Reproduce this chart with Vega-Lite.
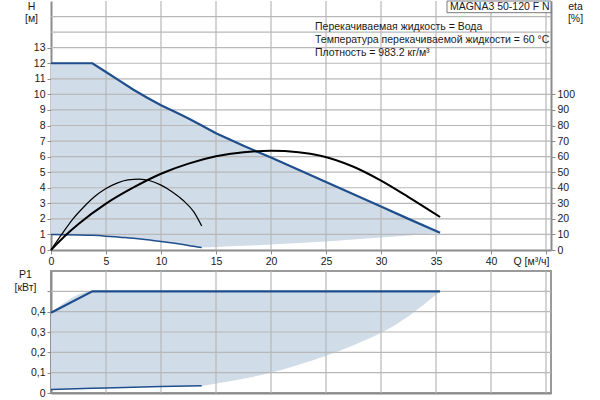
{
  "$schema": "https://vega.github.io/schema/vega-lite/v6.json",
  "padding": {"left": 13, "top": 0, "right": 0, "bottom": 0},
  "background": "white",
  "spacing": 1,
  "config": {
    "font": "Liberation Sans",
    "view": {"stroke": null},
    "axis": {
      "labelFont": "Liberation Sans", "labelFontSize": 10.5, "labelColor": "#1a1a1a",
      "titleFont": "Liberation Sans", "titleFontSize": 10.5, "titleFontWeight": "normal", "titleColor": "#1a1a1a",
      "grid": false,
      "domainColor": "#8c8c8c", "domainWidth": 2,
      "tickColor": "#8c8c8c", "tickSize": 4, "labelPadding": 2,
      "zindex": 1
    }
  },
  "datasets": {
    "hband": [
      {"Q": 0, "hi": 12, "lo": 1.0},
      {"Q": 2.5, "hi": 12, "lo": 0.97},
      {"Q": 3.76, "hi": 12, "lo": 0.94},
      {"Q": 5, "hi": 11.44, "lo": 0.89},
      {"Q": 6.25, "hi": 10.87, "lo": 0.82},
      {"Q": 7.5, "hi": 10.3, "lo": 0.75},
      {"Q": 8.75, "hi": 9.78, "lo": 0.66},
      {"Q": 10, "hi": 9.3, "lo": 0.55},
      {"Q": 11.25, "hi": 8.88, "lo": 0.43},
      {"Q": 12, "hi": 8.62, "lo": 0.35},
      {"Q": 12.5, "hi": 8.45, "lo": 0.29},
      {"Q": 13.7, "hi": 8.0, "lo": 0.16},
      {"Q": 15, "hi": 7.5, "lo": 0.2},
      {"Q": 16.25, "hi": 7.1, "lo": 0.234},
      {"Q": 17.5, "hi": 6.7, "lo": 0.272},
      {"Q": 18.75, "hi": 6.32, "lo": 0.312},
      {"Q": 20, "hi": 5.94, "lo": 0.355},
      {"Q": 22.5, "hi": 5.15, "lo": 0.449},
      {"Q": 25, "hi": 4.37, "lo": 0.554},
      {"Q": 27.5, "hi": 3.58, "lo": 0.671},
      {"Q": 30, "hi": 2.8, "lo": 0.798},
      {"Q": 32.5, "hi": 2.0, "lo": 0.937},
      {"Q": 35.37, "hi": 1.11, "lo": 1.11}
    ],
    "etaBig": [
      {"Q": 0, "eta": 0},
      {"Q": 1.43, "eta": 10.1},
      {"Q": 2.5, "eta": 16.7},
      {"Q": 5, "eta": 29.8},
      {"Q": 7.5, "eta": 40.2},
      {"Q": 10, "eta": 49},
      {"Q": 12.5, "eta": 55.5},
      {"Q": 15, "eta": 60.2},
      {"Q": 17.5, "eta": 62.8},
      {"Q": 20, "eta": 63.7},
      {"Q": 22.5, "eta": 62.8},
      {"Q": 24.5, "eta": 60.6},
      {"Q": 27.5, "eta": 53.5},
      {"Q": 30, "eta": 44.6},
      {"Q": 32.5, "eta": 34},
      {"Q": 35.37, "eta": 21.2}
    ],
    "etaSmall": [
      {"Q": 0, "eta": 0},
      {"Q": 1, "eta": 10.3},
      {"Q": 2, "eta": 20},
      {"Q": 3, "eta": 27.8},
      {"Q": 4, "eta": 34.5},
      {"Q": 5, "eta": 39.5},
      {"Q": 6, "eta": 43},
      {"Q": 7, "eta": 45},
      {"Q": 8, "eta": 45.5},
      {"Q": 9, "eta": 44.5},
      {"Q": 10, "eta": 41.7},
      {"Q": 11, "eta": 37.5},
      {"Q": 12, "eta": 32},
      {"Q": 13, "eta": 24.3},
      {"Q": 13.7, "eta": 15.4}
    ],
    "pband": [
      {"Q": 0, "hi": 0.395, "lo": 0.017},
      {"Q": 3.76, "hi": 0.5, "lo": 0.023},
      {"Q": 5, "hi": 0.5, "lo": 0.025},
      {"Q": 10, "hi": 0.5, "lo": 0.032},
      {"Q": 13.7, "hi": 0.5, "lo": 0.036},
      {"Q": 15, "hi": 0.5, "lo": 0.047},
      {"Q": 17.5, "hi": 0.5, "lo": 0.07},
      {"Q": 20, "hi": 0.5, "lo": 0.1},
      {"Q": 22.5, "hi": 0.5, "lo": 0.139},
      {"Q": 25, "hi": 0.5, "lo": 0.183},
      {"Q": 27.5, "hi": 0.5, "lo": 0.235},
      {"Q": 30, "hi": 0.5, "lo": 0.296},
      {"Q": 32.5, "hi": 0.5, "lo": 0.378},
      {"Q": 35.37, "hi": 0.5, "lo": 0.5}
    ],
    "gridQ": [
      {"Q": 5, "y0": 0, "y1": 16, "p0": 0, "p1": 0.6}, {"Q": 10, "y0": 0, "y1": 16, "p0": 0, "p1": 0.6},
      {"Q": 15, "y0": 0, "y1": 16, "p0": 0, "p1": 0.6}, {"Q": 20, "y0": 0, "y1": 16, "p0": 0, "p1": 0.6},
      {"Q": 25, "y0": 0, "y1": 16, "p0": 0, "p1": 0.6}, {"Q": 30, "y0": 0, "y1": 16, "p0": 0, "p1": 0.6},
      {"Q": 35, "y0": 0, "y1": 16, "p0": 0, "p1": 0.6}, {"Q": 40, "y0": 0, "y1": 16, "p0": 0, "p1": 0.6},
      {"Q": 45, "y0": 0, "y1": 16, "p0": 0, "p1": 0.6}
    ],
    "gridH": [
      {"Q": 0, "Q2": 45.4545, "H": 1}, {"Q": 0, "Q2": 45.4545, "H": 2}, {"Q": 0, "Q2": 45.4545, "H": 3},
      {"Q": 0, "Q2": 45.4545, "H": 4}, {"Q": 0, "Q2": 45.4545, "H": 5}, {"Q": 0, "Q2": 45.4545, "H": 6},
      {"Q": 0, "Q2": 45.4545, "H": 7}, {"Q": 0, "Q2": 45.4545, "H": 8}, {"Q": 0, "Q2": 45.4545, "H": 9},
      {"Q": 0, "Q2": 45.4545, "H": 10}, {"Q": 0, "Q2": 45.4545, "H": 11}, {"Q": 0, "Q2": 45.4545, "H": 12},
      {"Q": 0, "Q2": 45.4545, "H": 13}, {"Q": 0, "Q2": 45.4545, "H": 14}, {"Q": 0, "Q2": 45.4545, "H": 15}
    ],
    "gridP": [
      {"Q": 0, "Q2": 45.4545, "P": 0.1}, {"Q": 0, "Q2": 45.4545, "P": 0.2}, {"Q": 0, "Q2": 45.4545, "P": 0.3},
      {"Q": 0, "Q2": 45.4545, "P": 0.4}, {"Q": 0, "Q2": 45.4545, "P": 0.5}
    ],
    "notes": [
      {"Q": 24.0, "H": 14.35, "t": "Перекачиваемая жидкость = Вода"},
      {"Q": 24.0, "H": 13.49, "t": "Температура перекачиваемой жидкости = 60 °C"},
      {"Q": 24.0, "H": 12.68, "t": "Плотность = 983.2 кг/м³"}
    ],
    "box": [
      {"Q": 36.0, "Q2": 45.4545, "H": 16, "H2": 15.25, "Qc": 40.8, "Hc": 15.62, "t": "MAGNA3 50-120 F N"}
    ]
  },
  "vconcat": [
    {
      "width": 500,
      "height": 249,
      "resolve": {"scale": {"y": "independent"}},
      "encoding": {
        "x": {
          "field": "Q", "type": "quantitative",
          "scale": {"domain": [0, 45.4545], "nice": false, "zero": false},
          "axis": {
            "values": [0, 5, 10, 15, 20, 25, 30, 35, 40, 45],
            "grid": false, "title": null,
            "labelFlush": false, "labelOverlap": false, "labelBound": false,
            "labelExpr": "datum.value == 45 ? 'Q [м³/ч]' : datum.label",
            "labelAlign": {"condition": {"test": "datum.value == 45", "value": "right"}, "value": "center"},
            "labelOffset": {"condition": {"test": "datum.value == 45", "value": 3}, "value": 0}
          }
        }
      },
      "layer": [
        {
          "layer": [
            {
              "data": {"name": "hband"},
              "mark": {"type": "area", "color": "#d0dce8", "opacity": 1},
              "encoding": {
                "y": {
                  "field": "hi", "type": "quantitative",
                  "scale": {"domain": [0, 16], "nice": false},
                  "axis": {"values": [0, 1, 2, 3, 4, 5, 6, 7, 8, 9, 10, 11, 12, 13, 14, 15], "grid": false, "title": ["H", "[м]"], "titleAngle": 0, "titleAlign": "center", "titleBaseline": "top", "titleX": -20, "titleY": 0, "titleLineHeight": 12, "labelExpr": "datum.value <= 13 ? datum.label : ''", "tickOpacity": {"condition": {"test": "datum.value > 13", "value": 0}, "value": 1}}
                },
                "y2": {"field": "lo"}
              }
            },
            {
              "data": {"name": "gridQ"},
              "mark": {"type": "rule", "stroke": "#b8b8b8", "strokeWidth": 1.2},
              "encoding": {
                "y": {
                  "field": "y0", "type": "quantitative",
                  "scale": {"domain": [0, 16], "nice": false},
                  "axis": {"values": [0, 1, 2, 3, 4, 5, 6, 7, 8, 9, 10, 11, 12, 13, 14, 15], "grid": false, "title": ["H", "[м]"], "titleAngle": 0, "titleAlign": "center", "titleBaseline": "top", "titleX": -20, "titleY": 0, "titleLineHeight": 12, "labelExpr": "datum.value <= 13 ? datum.label : ''", "tickOpacity": {"condition": {"test": "datum.value > 13", "value": 0}, "value": 1}}
                },
                "y2": {"field": "y1"}
              }
            },
            {
              "data": {"name": "gridH"},
              "mark": {"type": "rule", "stroke": "#b8b8b8", "strokeWidth": 1.2},
              "encoding": {
                "x2": {"field": "Q2"},
                "y": {
                  "field": "H", "type": "quantitative",
                  "scale": {"domain": [0, 16], "nice": false},
                  "axis": {"values": [0, 1, 2, 3, 4, 5, 6, 7, 8, 9, 10, 11, 12, 13, 14, 15], "grid": false, "title": ["H", "[м]"], "titleAngle": 0, "titleAlign": "center", "titleBaseline": "top", "titleX": -20, "titleY": 0, "titleLineHeight": 12, "labelExpr": "datum.value <= 13 ? datum.label : ''", "tickOpacity": {"condition": {"test": "datum.value > 13", "value": 0}, "value": 1}}
                }
              }
            },
            {
              "data": {"name": "hband"},
              "mark": {"type": "line", "color": "#1f4e8c", "strokeWidth": 2.2},
              "encoding": {
                "y": {
                  "field": "hi", "type": "quantitative",
                  "scale": {"domain": [0, 16], "nice": false},
                  "axis": {"values": [0, 1, 2, 3, 4, 5, 6, 7, 8, 9, 10, 11, 12, 13, 14, 15], "grid": false, "title": ["H", "[м]"], "titleAngle": 0, "titleAlign": "center", "titleBaseline": "top", "titleX": -20, "titleY": 0, "titleLineHeight": 12, "labelExpr": "datum.value <= 13 ? datum.label : ''", "tickOpacity": {"condition": {"test": "datum.value > 13", "value": 0}, "value": 1}}
                }
              }
            },
            {
              "data": {"name": "hband"},
              "transform": [{"filter": "datum.Q <= 13.7"}],
              "mark": {"type": "line", "color": "#1f4e8c", "strokeWidth": 1.5, "interpolate": "monotone"},
              "encoding": {
                "y": {
                  "field": "lo", "type": "quantitative",
                  "scale": {"domain": [0, 16], "nice": false},
                  "axis": {"values": [0, 1, 2, 3, 4, 5, 6, 7, 8, 9, 10, 11, 12, 13, 14, 15], "grid": false, "title": ["H", "[м]"], "titleAngle": 0, "titleAlign": "center", "titleBaseline": "top", "titleX": -20, "titleY": 0, "titleLineHeight": 12, "labelExpr": "datum.value <= 13 ? datum.label : ''", "tickOpacity": {"condition": {"test": "datum.value > 13", "value": 0}, "value": 1}}
                }
              }
            },
            {
              "data": {"name": "box"},
              "mark": {"type": "rect", "fill": "white", "stroke": "#7a7a7a", "strokeWidth": 1},
              "encoding": {
                "x2": {"field": "Q2"},
                "y": {
                  "field": "H", "type": "quantitative",
                  "scale": {"domain": [0, 16], "nice": false},
                  "axis": {"values": [0, 1, 2, 3, 4, 5, 6, 7, 8, 9, 10, 11, 12, 13, 14, 15], "grid": false, "title": ["H", "[м]"], "titleAngle": 0, "titleAlign": "center", "titleBaseline": "top", "titleX": -20, "titleY": 0, "titleLineHeight": 12, "labelExpr": "datum.value <= 13 ? datum.label : ''", "tickOpacity": {"condition": {"test": "datum.value > 13", "value": 0}, "value": 1}}
                },
                "y2": {"field": "H2"}
              }
            },
            {
              "data": {"name": "box"},
              "mark": {"type": "text", "fontSize": 10.5, "color": "#1a1a1a", "align": "center", "baseline": "middle", "font": "Liberation Sans"},
              "encoding": {
                "x": {
                  "field": "Qc", "type": "quantitative",
                  "scale": {"domain": [0, 45.4545], "nice": false, "zero": false},
                  "axis": {
                    "values": [0, 5, 10, 15, 20, 25, 30, 35, 40, 45],
                    "grid": false, "title": null,
                    "labelFlush": false, "labelOverlap": false, "labelBound": false,
                    "labelExpr": "datum.value == 45 ? 'Q [м³/ч]' : datum.label",
                    "labelAlign": {"condition": {"test": "datum.value == 45", "value": "right"}, "value": "center"},
                    "labelOffset": {"condition": {"test": "datum.value == 45", "value": 3}, "value": 0}
                  }
                },
                "y": {
                  "field": "Hc", "type": "quantitative",
                  "scale": {"domain": [0, 16], "nice": false},
                  "axis": {"values": [0, 1, 2, 3, 4, 5, 6, 7, 8, 9, 10, 11, 12, 13, 14, 15], "grid": false, "title": ["H", "[м]"], "titleAngle": 0, "titleAlign": "center", "titleBaseline": "top", "titleX": -20, "titleY": 0, "titleLineHeight": 12, "labelExpr": "datum.value <= 13 ? datum.label : ''", "tickOpacity": {"condition": {"test": "datum.value > 13", "value": 0}, "value": 1}}
                },
                "text": {"field": "t"}
              }
            },
            {
              "data": {"name": "notes"},
              "mark": {"type": "text", "fontSize": 10.5, "color": "#1a1a1a", "align": "left", "baseline": "middle", "font": "Liberation Sans"},
              "encoding": {
                "y": {
                  "field": "H", "type": "quantitative",
                  "scale": {"domain": [0, 16], "nice": false},
                  "axis": {"values": [0, 1, 2, 3, 4, 5, 6, 7, 8, 9, 10, 11, 12, 13, 14, 15], "grid": false, "title": ["H", "[м]"], "titleAngle": 0, "titleAlign": "center", "titleBaseline": "top", "titleX": -20, "titleY": 0, "titleLineHeight": 12, "labelExpr": "datum.value <= 13 ? datum.label : ''", "tickOpacity": {"condition": {"test": "datum.value > 13", "value": 0}, "value": 1}}
                },
                "text": {"field": "t"}
              }
            }
          ]
        },
        {
          "layer": [
            {
              "data": {"name": "etaBig"},
              "mark": {"type": "line", "color": "black", "strokeWidth": 2, "interpolate": "monotone"},
              "encoding": {
                "y": {
                  "field": "eta", "type": "quantitative",
                  "scale": {"domain": [0, 160], "nice": false},
                  "axis": {"orient": "right", "values": [0, 10, 20, 30, 40, 50, 60, 70, 80, 90, 100], "grid": false, "title": ["eta", "[%]"], "titleAngle": 0, "titleAlign": "center", "titleBaseline": "top", "titleX": 24, "titleY": 0, "titleLineHeight": 12}
                }
              }
            },
            {
              "data": {"name": "etaSmall"},
              "mark": {"type": "line", "color": "black", "strokeWidth": 1.2, "interpolate": "monotone"},
              "encoding": {
                "y": {
                  "field": "eta", "type": "quantitative",
                  "scale": {"domain": [0, 160], "nice": false},
                  "axis": {"orient": "right", "values": [0, 10, 20, 30, 40, 50, 60, 70, 80, 90, 100], "grid": false, "title": ["eta", "[%]"], "titleAngle": 0, "titleAlign": "center", "titleBaseline": "top", "titleX": 24, "titleY": 0, "titleLineHeight": 12}
                }
              }
            }
          ]
        }
      ]
    },
    {
      "width": 500,
      "height": 122,
      "view": {"stroke": "#9a9a9a", "strokeWidth": 2},
      "data": {"name": "pband"},
      "encoding": {
        "x": {
          "field": "Q", "type": "quantitative",
          "scale": {"domain": [0, 45.4545], "nice": false, "zero": false},
          "axis": {"values": [0, 5, 10, 15, 20, 25, 30, 35, 40, 45], "grid": false, "labels": false, "ticks": false, "title": null}
        }
      },
      "layer": [
        {
          "mark": {"type": "area", "color": "#d0dce8", "opacity": 1, "interpolate": "monotone"},
          "encoding": {
            "y": {
              "field": "hi", "type": "quantitative",
              "scale": {"domain": [0, 0.6], "nice": false},
              "axis": {"values": [0, 0.1, 0.2, 0.3, 0.4, 0.5, 0.6], "grid": false, "title": ["P1", "[кВт]"], "titleAngle": 0, "titleAlign": "center", "titleBaseline": "top", "titleX": -26, "titleY": -2, "titleLineHeight": 13, "labelExpr": "datum.value == 0 ? '0' : datum.value > 0.45 ? '' : replace(format(datum.value, '.1f'), '.', ',')", "tickOpacity": {"condition": {"test": "datum.value > 0.55", "value": 0}, "value": 1}}
            },
            "y2": {"field": "lo"}
          }
        },
        {
          "data": {"name": "gridQ"},
          "mark": {"type": "rule", "stroke": "#b8b8b8", "strokeWidth": 1.2},
          "encoding": {
            "y": {
              "field": "p0", "type": "quantitative",
              "scale": {"domain": [0, 0.6], "nice": false},
              "axis": {"values": [0, 0.1, 0.2, 0.3, 0.4, 0.5, 0.6], "grid": false, "title": ["P1", "[кВт]"], "titleAngle": 0, "titleAlign": "center", "titleBaseline": "top", "titleX": -26, "titleY": -2, "titleLineHeight": 13, "labelExpr": "datum.value == 0 ? '0' : datum.value > 0.45 ? '' : replace(format(datum.value, '.1f'), '.', ',')", "tickOpacity": {"condition": {"test": "datum.value > 0.55", "value": 0}, "value": 1}}
            },
            "y2": {"field": "p1"}
          }
        },
        {
          "data": {"name": "gridP"},
          "mark": {"type": "rule", "stroke": "#b8b8b8", "strokeWidth": 1.2},
          "encoding": {
            "x2": {"field": "Q2"},
            "y": {
              "field": "P", "type": "quantitative",
              "scale": {"domain": [0, 0.6], "nice": false},
              "axis": {"values": [0, 0.1, 0.2, 0.3, 0.4, 0.5, 0.6], "grid": false, "title": ["P1", "[кВт]"], "titleAngle": 0, "titleAlign": "center", "titleBaseline": "top", "titleX": -26, "titleY": -2, "titleLineHeight": 13, "labelExpr": "datum.value == 0 ? '0' : datum.value > 0.45 ? '' : replace(format(datum.value, '.1f'), '.', ',')", "tickOpacity": {"condition": {"test": "datum.value > 0.55", "value": 0}, "value": 1}}
            }
          }
        },
        {
          "mark": {"type": "line", "color": "#1f4e8c", "strokeWidth": 2.2},
          "encoding": {
            "y": {
              "field": "hi", "type": "quantitative",
              "scale": {"domain": [0, 0.6], "nice": false},
              "axis": {"values": [0, 0.1, 0.2, 0.3, 0.4, 0.5, 0.6], "grid": false, "title": ["P1", "[кВт]"], "titleAngle": 0, "titleAlign": "center", "titleBaseline": "top", "titleX": -26, "titleY": -2, "titleLineHeight": 13, "labelExpr": "datum.value == 0 ? '0' : datum.value > 0.45 ? '' : replace(format(datum.value, '.1f'), '.', ',')", "tickOpacity": {"condition": {"test": "datum.value > 0.55", "value": 0}, "value": 1}}
            }
          }
        },
        {
          "transform": [{"filter": "datum.Q <= 13.7"}],
          "mark": {"type": "line", "color": "#1f4e8c", "strokeWidth": 1.5},
          "encoding": {
            "y": {
              "field": "lo", "type": "quantitative",
              "scale": {"domain": [0, 0.6], "nice": false},
              "axis": {"values": [0, 0.1, 0.2, 0.3, 0.4, 0.5, 0.6], "grid": false, "title": ["P1", "[кВт]"], "titleAngle": 0, "titleAlign": "center", "titleBaseline": "top", "titleX": -26, "titleY": -2, "titleLineHeight": 13, "labelExpr": "datum.value == 0 ? '0' : datum.value > 0.45 ? '' : replace(format(datum.value, '.1f'), '.', ',')", "tickOpacity": {"condition": {"test": "datum.value > 0.55", "value": 0}, "value": 1}}
            }
          }
        }
      ]
    }
  ]
}
